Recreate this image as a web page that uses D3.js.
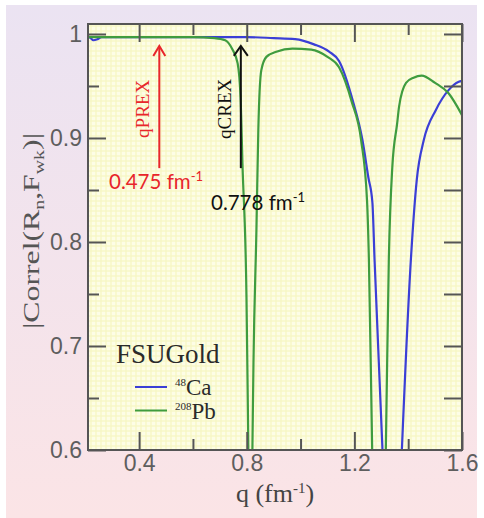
<!DOCTYPE html>
<html>
<head>
<meta charset="utf-8">
<script src="https://cdn.jsdelivr.net/npm/d3@7"></script>
<style>
  html, body { margin: 0; padding: 0; background: #ffffff; }
  svg { display: block; }
</style>
</head>
<body>
<svg id="chart" width="484" height="518"></svg>
<script>
// |Correl(Rn, Fwk)| versus momentum transfer q, FSUGold model
const qCa = [0.21, 0.22, 0.23, 0.245, 0.26, 0.35, 0.5, 0.65, 0.8, 0.9, 0.98, 1.05, 1.106, 1.143, 1.195,
  1.23, 1.252, 1.267, 1.275, 1.304, 1.34, 1.377, 1.41, 1.432, 1.458, 1.503, 1.55, 1.588, 1.6];
const corrCa = [0.998, 0.996, 0.994, 0.995, 0.997, 0.997, 0.997, 0.997, 0.997, 0.996, 0.995, 0.99, 0.983, 0.974, 0.935,
  0.898, 0.862, 0.838, 0.783, 0.603, 0.35, 0.603, 0.783, 0.86, 0.898, 0.927, 0.946, 0.954, 0.955];

const qPb = [0.21, 0.4, 0.6, 0.68, 0.72, 0.747, 0.766, 0.777, 0.784, 0.799, 0.806, 0.8135, 0.821, 0.825, 0.836,
  0.843, 0.854, 0.873, 0.91, 0.97, 1.04, 1.1, 1.143, 1.19, 1.225, 1.247, 1.254, 1.266, 1.29, 1.317, 1.328,
  1.341, 1.359, 1.366, 1.392, 1.42, 1.45, 1.5, 1.55, 1.6];
const corrPb = [0.997, 0.997, 0.997, 0.996, 0.994, 0.985, 0.972, 0.939, 0.876, 0.747, 0.6, 0.45, 0.6, 0.684, 0.812,
  0.908, 0.965, 0.978, 0.983, 0.986, 0.985, 0.978, 0.968, 0.935, 0.898, 0.84, 0.783, 0.603, 0.35, 0.603, 0.783,
  0.872, 0.914, 0.93, 0.953, 0.958, 0.96, 0.953, 0.943, 0.922];

const seriesNames = ["48Ca", "208Pb"];
const seriesMass = ["48", "208"];
const seriesElem = ["Ca", "Pb"];
const seriesColors = ["#3b3fd6", "#3f9c3f"];

const xMajorTicks = [0.4, 0.8, 1.2, 1.6];
const xMinorTicks = [0.6, 1.0, 1.4];
const yMajorTicks = [0.6, 0.7, 0.8, 0.9, 1.0];
const yMinorTicks = [0.65, 0.75, 0.85, 0.95];

// experiment momentum transfers
const markerNames = ["qPREX", "qCREX"];
const markerQ = [0.475, 0.778];
const markerLabels = ["0.475 fm", "0.778 fm"];
const markerColors = ["#e8262b", "#111111"];

const svg = d3.select("#chart");
const defs = svg.append("defs");

const grad = defs.append("linearGradient").attr("id", "bg").attr("x1", 0).attr("y1", 0).attr("x2", 0).attr("y2", 1);
grad.append("stop").attr("offset", "0%").attr("stop-color", "#ebe3f2");
grad.append("stop").attr("offset", "100%").attr("stop-color", "#fbe4e6");

const pat = defs.append("pattern").attr("id", "paper").attr("patternUnits", "userSpaceOnUse")
  .attr("width", 5).attr("height", 5);
pat.append("rect").attr("width", 5).attr("height", 5).attr("fill", "#fdfde6");
pat.append("path").attr("d", "M0 1H5M1 0V5").attr("stroke", "#f3f3b2").attr("stroke-width", 1.5).attr("opacity", 0.6);

svg.append("rect").attr("x", 6).attr("y", 5).attr("width", 471).attr("height", 513).attr("fill", "url(#bg)");

const x = d3.scaleLinear().domain([0.21, 1.6]).range([88, 462]);
const y = d3.scaleLinear().domain([0.6, 1.0096]).range([450, 24]);

const [x0, x1] = x.range();
const [y0, y1] = y.range();

svg.append("rect").attr("x", x0).attr("y", y1).attr("width", x1 - x0).attr("height", y0 - y1)
  .attr("fill", "url(#paper)");

defs.append("clipPath").attr("id", "plotClip").append("rect")
  .attr("x", x0).attr("y", y1).attr("width", x1 - x0).attr("height", y0 - y1);

// curves
const line = d3.line().x(d => x(d[0])).y(d => y(d[1])).curve(d3.curveMonotoneX);
const curves = [d3.zip(qCa, corrCa), d3.zip(qPb, corrPb)];
const gCurves = svg.append("g").attr("clip-path", "url(#plotClip)");
curves.forEach((pts, i) => {
  gCurves.append("path").datum(pts).attr("d", line)
    .attr("fill", "none").attr("stroke", seriesColors[i]).attr("stroke-width", 2.2)
    .attr("stroke-linejoin", "round");
});

// marker arrows
markerQ.forEach((q, i) => {
  const g = svg.append("g").attr("stroke", markerColors[i]).attr("fill", "none").attr("stroke-width", 2);
  const xa = x(q);
  const tip = y(0.9885);
  const half = i === 0 ? 6 : 7;
  g.append("line").attr("x1", xa).attr("x2", xa).attr("y1", y(0.871)).attr("y2", tip + 1);
  g.append("path").attr("d", `M${xa - half},${tip + 10}L${xa},${tip}L${xa + half},${tip + 10}`);
});

// axes with inward ticks
function styleAxis(g) {
  g.select(".domain").remove();
  g.selectAll(".tick line").attr("stroke", "#555").attr("stroke-width", 2);
  g.selectAll(".tick text").attr("fill", "#5e5e5e")
    .attr("font-family", "'Liberation Sans', Arial, sans-serif").attr("font-size", 23);
}
const fmt = d => d === 1 ? "1" : d3.format(".1f")(d);

svg.append("g").attr("transform", `translate(0,${y0})`)
  .call(d3.axisBottom(x).tickValues(xMajorTicks).tickSizeInner(-18).tickSizeOuter(0).tickPadding(5).tickFormat(fmt))
  .call(styleAxis);
svg.append("g").attr("transform", `translate(0,${y0})`)
  .call(d3.axisBottom(x).tickValues(xMinorTicks).tickSizeInner(-11).tickSizeOuter(0).tickFormat(""))
  .call(styleAxis);
svg.append("g").attr("transform", `translate(0,${y1})`)
  .call(d3.axisTop(x).tickValues(xMajorTicks).tickSizeInner(-18).tickSizeOuter(0).tickFormat(""))
  .call(styleAxis);
svg.append("g").attr("transform", `translate(0,${y1})`)
  .call(d3.axisTop(x).tickValues(xMinorTicks).tickSizeInner(-11).tickSizeOuter(0).tickFormat(""))
  .call(styleAxis);
svg.append("g").attr("transform", `translate(${x0},0)`)
  .call(d3.axisLeft(y).tickValues(yMajorTicks).tickSizeInner(-18).tickSizeOuter(0).tickPadding(6).tickFormat(fmt))
  .call(styleAxis);
svg.append("g").attr("transform", `translate(${x0},0)`)
  .call(d3.axisLeft(y).tickValues(yMinorTicks).tickSizeInner(-11).tickSizeOuter(0).tickFormat(""))
  .call(styleAxis);
svg.append("g").attr("transform", `translate(${x1},0)`)
  .call(d3.axisRight(y).tickValues(yMajorTicks.concat(yMinorTicks)).tickSizeInner(-18).tickSizeOuter(0).tickFormat(""))
  .call(styleAxis);

// frame
svg.append("rect").attr("x", x0).attr("y", y1).attr("width", x1 - x0).attr("height", y0 - y1)
  .attr("fill", "none").attr("stroke", "#555").attr("stroke-width", 2);

// rotated marker names
const serif = "'Liberation Serif', 'Times New Roman', serif";
markerNames.forEach((name, i) => {
  const xa = x(markerQ[i]);
  svg.append("text").attr("transform", `translate(${xa - 10},${y(0.928)}) rotate(-90)`)
    .attr("text-anchor", "middle").attr("font-family", serif).attr("font-size", 19)
    .attr("fill", markerColors[i]).text(name);
});

// marker values
const sans = "Lato, 'Open Sans', sans-serif";
const labelPos = [[109, 189], [211, 210]];
markerLabels.forEach((lab, i) => {
  const t = svg.append("text").attr("x", labelPos[i][0]).attr("y", labelPos[i][1])
    .attr("font-family", sans).attr("font-size", 20.5).attr("fill", markerColors[i]);
  t.append("tspan").text(lab);
  t.append("tspan").attr("font-size", 13).attr("dy", -8).text("-1");
});

// legend
svg.append("text").attr("x", 116).attr("y", 363).attr("font-family", serif).attr("font-size", 27)
  .attr("fill", "#2a2a2a").text("FSUGold");
seriesNames.forEach((name, i) => {
  const ly = 387 + i * 23.5;
  svg.append("line").attr("x1", 135).attr("x2", 167).attr("y1", ly).attr("y2", ly)
    .attr("stroke", seriesColors[i]).attr("stroke-width", 2);
  const t = svg.append("text").attr("x", 175).attr("y", ly + 8)
    .attr("font-family", serif).attr("fill", "#2a2a2a");
  t.append("tspan").attr("font-size", 11).attr("dy", -9).text(seriesMass[i]);
  t.append("tspan").attr("font-size", 23).attr("dy", 9).text(seriesElem[i]);
});

// axis titles
const yt = svg.append("text").attr("transform", `translate(39,231) rotate(-90)`)
  .attr("text-anchor", "middle").attr("font-family", serif).attr("font-size", 24).attr("fill", "#555")
  .attr("textLength", 196).attr("lengthAdjust", "spacingAndGlyphs");
yt.append("tspan").text("|Correl(R");
yt.append("tspan").attr("font-size", 15).attr("dy", 5).text("n");
yt.append("tspan").attr("dy", -5).text(",F");
yt.append("tspan").attr("font-size", 15).attr("dy", 5).text("wk");
yt.append("tspan").attr("dy", -5).text(")|");

const xt = svg.append("text").attr("x", 275).attr("y", 502).attr("text-anchor", "middle")
  .attr("font-family", serif).attr("font-size", 26).attr("fill", "#444");
xt.append("tspan").text("q (fm");
xt.append("tspan").attr("font-size", 15).attr("dy", -9).text("-1");
xt.append("tspan").attr("dy", 9).text(")");
</script>
</body>
</html>
